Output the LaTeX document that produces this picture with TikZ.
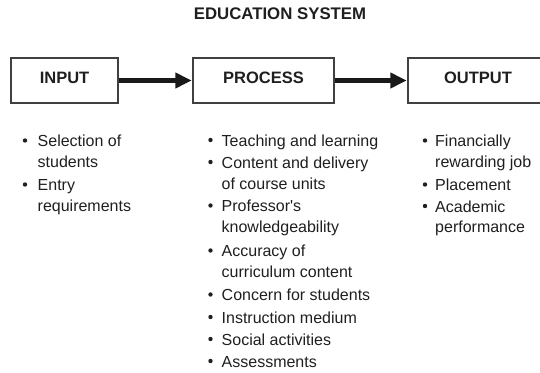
\documentclass[tikz,border=0pt]{standalone}
\usepackage{fontspec}
\setmainfont{Liberation Sans}
% same face without TeX ligatures, for a straight apostrophe
\newfontfamily\straightquote{Liberation Sans}
\usetikzlibrary{arrows.meta}
\begin{document}
\begin{tikzpicture}[x=1pt,y=-1pt,
  stage/.style={draw=black!75, line width=1.3pt, minimum width=#1,
    minimum height=45pt, inner sep=0pt},
  stagelabel/.style={anchor=base, inner sep=0pt, text=black!88,
    font=\bfseries\fontsize{16.5}{20}\selectfont},
  flow/.style={draw=black!90, line width=4.7pt,
    -{Triangle[length=16.5pt,width=15pt]}, shorten <=0.6pt, shorten >=0.6pt},
  itemline/.style={anchor=base west, inner sep=0pt, text=black!88,
    font=\fontsize{16}{20}\selectfont},
  dot/.style={fill=black!88}
]
\useasboundingbox (0,0) rectangle (540,372);
\clip (0,0) rectangle (540,372);

% heading
\node[anchor=base, inner sep=0pt, text=black!88,
  font=\bfseries\fontsize{16.8}{20}\selectfont] (title) at (280,19) {EDUCATION SYSTEM};

% the three stages
\node[stage=107pt] (input)   at (64.5,80.5)  {};
\node[stage=141pt] (process) at (263.5,80.5) {};
\node[stage=140pt] (output)  at (478,80.5)   {};
\node[stagelabel] (inputlab)   at (64.5,83.3)  {INPUT};
\node[stagelabel] (processlab) at (263.5,83.3) {PROCESS};
\node[stagelabel] (outputlab)  at (478,83.3)   {OUTPUT};

\draw[flow] (input.east) -- (process.west);
\draw[flow] (process.east) -- (output.west);

% input factors
\fill[dot] (25,140.5) circle (2.2);
\node[itemline] (i1a) at (37.5,146.5) {Selection of};
\node[itemline] (i1b) at (37.5,167)   {students};
\fill[dot] (25,184.5) circle (2.2);
\node[itemline] (i2a) at (37.5,190.5) {Entry};
\node[itemline] (i2b) at (37.5,211)   {requirements};

% process factors
\fill[dot] (210.5,140) circle (2.2);
\node[itemline] (p1a) at (221.5,146)   {Teaching and learning};
\fill[dot] (210.5,162) circle (2.2);
\node[itemline] (p2a) at (221.5,168)   {Content and delivery};
\node[itemline] (p2b) at (221.5,189)   {of course units};
\fill[dot] (210.5,205.5) circle (2.2);
\node[itemline] (p3a) at (221.5,211.5) {Professor{\straightquote'}s};
\node[itemline] (p3b) at (221.5,232.5) {knowledgeability};
\fill[dot] (210.5,250.5) circle (2.2);
\node[itemline] (p4a) at (221.5,256.5) {Accuracy of};
\node[itemline] (p4b) at (221.5,277)   {curriculum content};
\fill[dot] (210.5,294.5) circle (2.2);
\node[itemline] (p5a) at (221.5,300.5) {Concern for students};
\fill[dot] (210.5,317) circle (2.2);
\node[itemline] (p6a) at (221.5,323)   {Instruction medium};
\fill[dot] (210.5,339) circle (2.2);
\node[itemline] (p7a) at (221.5,345)   {Social activities};
\fill[dot] (210.5,361) circle (2.2);
\node[itemline] (p8a) at (221.5,367)   {Assessments};

% output factors
\fill[dot] (425,140.5) circle (2.2);
\node[itemline] (o1a) at (435,146.5) {Financially};
\node[itemline] (o1b) at (435,167)   {rewarding job};
\fill[dot] (425,184.5) circle (2.2);
\node[itemline] (o2a) at (435,190.5) {Placement};
\fill[dot] (425,206) circle (2.2);
\node[itemline] (o3a) at (435,212)   {Academic};
\node[itemline] (o3b) at (435,232)   {performance};
\end{tikzpicture}
\end{document}
